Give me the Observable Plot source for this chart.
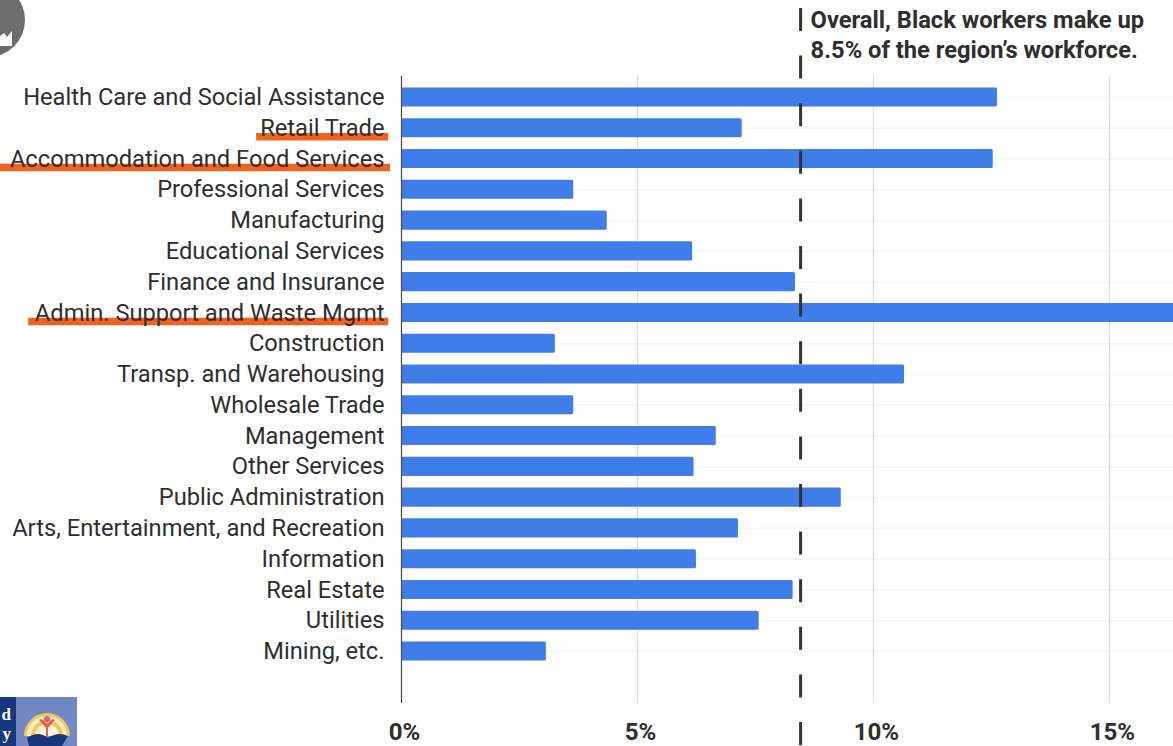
<!DOCTYPE html>
<html>
<head>
<meta charset="utf-8">
<script src="https://cdn.jsdelivr.net/npm/d3@7"></script>
<script src="https://cdn.jsdelivr.net/npm/@observablehq/plot@0.6"></script>
<style>
  html, body { margin: 0; padding: 0; background: #fff; width: 1173px; height: 746px; overflow: hidden; }
  #chart { position: absolute; left: 0; top: 0; }
  .badge { position: absolute; left: 0; top: 0; pointer-events: none; }
</style>
</head>
<body>
<div id="chart"></div>
<svg class="badge" width="1173" height="746" xmlns="http://www.w3.org/2000/svg">
  <!-- corner avatar -->
  <circle cx="-12" cy="20" r="37" fill="#6c6c6e"/>
  <path d="M0 36 L4 33 L7 37 L12 31 L12 46 L0 46 Z" fill="#fff"/>
  <!-- organisation logo -->
  <rect x="0" y="697" width="16" height="49" fill="#17377f"/>
  <rect x="16" y="697" width="61" height="49" fill="#7089c4"/>
  <text x="11" y="720" text-anchor="end" font-family="Liberation Serif" font-weight="700" font-size="17" fill="#fff">d</text>
  <text x="11" y="739" text-anchor="end" font-family="Liberation Serif" font-weight="700" font-size="17" fill="#fff">y</text>
  <path d="M24 736 A23 23 0 1 1 70 736 Z" fill="#f4c64f"/>
  <path d="M27 736 A20 20 0 1 1 67 736 Z" fill="#fbeec8"/>
  <path d="M31 736 A16 16 0 1 1 63 736 Z" fill="#f4c64f"/>
  <path d="M35 736 A12 12 0 1 1 59 736 Z" fill="#fdf6e3"/>
  <path d="M39 720 L46 728 L46 737 L48 737 L48 728 L55 720 L52 719 L47 724 L42 719 Z" fill="#e0605a"/>
  <circle cx="47" cy="719" r="3" fill="#e0605a"/>
  <path d="M27 738 Q38 730 48 738 Q58 731 68 736 L62 746 L29 746 Z" fill="#17377f"/>
</svg>
<script>
// Share of each industry's workers who are Black, top to bottom as listed
const industries = [
  "Health Care and Social Assistance", "Retail Trade", "Accommodation and Food Services",
  "Professional Services", "Manufacturing", "Educational Services", "Finance and Insurance",
  "Admin. Support and Waste Mgmt", "Construction", "Transp. and Warehousing", "Wholesale Trade",
  "Management", "Other Services", "Public Administration", "Arts, Entertainment, and Recreation",
  "Information", "Real Estate", "Utilities", "Mining, etc."
];
const shares = [12.63, 7.22, 12.54, 3.65, 4.36, 6.17, 8.35, 17.2, 3.26, 10.66, 3.65, 6.67, 6.2, 9.32, 7.14, 6.25, 8.3, 7.58, 3.07];
const overallShare = 8.5;
const xTicks = [0, 5, 10, 15];
const xMax = 16.36;

// Industries called out with an orange underline; extents in x-axis units
const highlighted = ["Retail Trade", "Accommodation and Food Services", "Admin. Support and Waste Mgmt"];
const highlightStart = [-3.07, -8.5, -7.9];
const highlightEnd = [-0.27, -0.23, -0.27];

const rows = industries.map((name, i) => ({name, share: shares[i]}));
const underlines = highlighted.map((name, i) => ({name, x1: highlightStart[i], x2: highlightEnd[i]}));

const chart = Plot.plot({
  width: 1173,
  height: 746,
  marginLeft: 401,
  marginRight: 0,
  marginTop: 76,
  marginBottom: 43,
  style: {fontFamily: "Roboto", background: "#fff"},
  x: {domain: [0, xMax], ticks: xTicks},
  y: {domain: industries, range: [81.6, 666.4], paddingInner: 0.38, paddingOuter: 0.19, round: false},
  marks: [
    Plot.ruleY(industries, {y: d => d, x1: 0, x2: xMax, stroke: "#f4f4f4", strokeWidth: 1.5}),
    Plot.ruleX(xTicks.slice(1), {stroke: "#d9d9d9", strokeWidth: 1}),
    Plot.ruleY(underlines, {y: "name", x1: "x1", x2: "x2", dy: 8.5, stroke: "#f0631f", strokeWidth: 7.5}),
    Plot.barX(rows, {x: "share", y: "name", fill: "#3f7de8", rx: 1.5, clip: "frame"}),
    Plot.ruleX([0], {stroke: "#444", strokeWidth: 1.2}),
    Plot.ruleX([overallShare], {
      stroke: "#333", strokeWidth: 3, strokeDasharray: "23 24.6",
      insetTop: -68, insetBottom: -43, dx: -2
    }),
    Plot.axisY({tickSize: 0, tickPadding: 17, fontSize: 23.7, color: "#2e2e2e", label: null}),
    Plot.axisX({
      ticks: xTicks, tickSize: 0, tickPadding: 19, fontSize: 24, fontWeight: 700, dx: 3,
      tickFormat: d => `${d}%`, color: "#2e2e2e", label: null
    }),
    Plot.text(["Overall, Black workers make up\n8.5% of the region\u2019s workforce."], {
      x: overallShare, frameAnchor: "top", textAnchor: "start", lineAnchor: "top",
      dx: 8, dy: -70, lineHeight: 1.266, fontSize: 23.7, fontWeight: 700, fill: "#2e2e2e"
    })
  ]
});
document.getElementById("chart").append(chart);
</script>
</body>
</html>
